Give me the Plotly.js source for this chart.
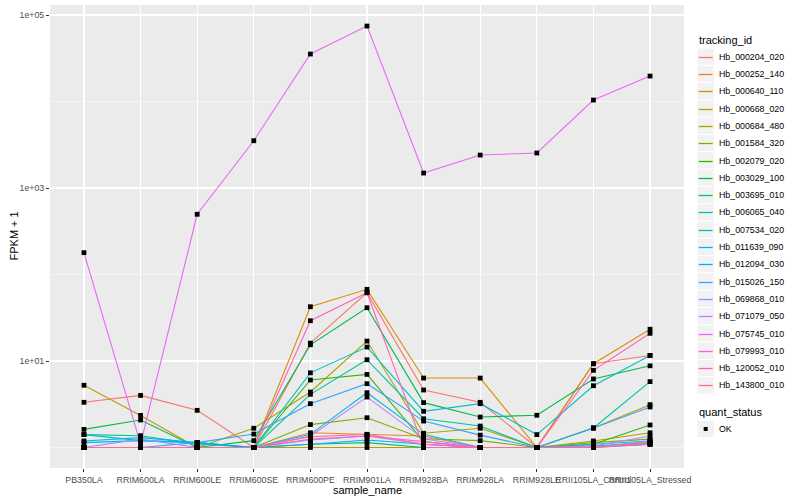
<!DOCTYPE html>
<html>
<head>
<meta charset="utf-8">
<script src="https://cdn.plot.ly/plotly-3.0.1.min.js"></script>
<style>html,body{margin:0;padding:0;background:#fff;}#chart{width:800px;height:500px;}</style>
</head>
<body>
<div id="chart"></div>
<script>
// Categories
const samples = ["PB350LA","RRIM600LA","RRIM600LE","RRIM600SE","RRIM600PE","RRIM901LA","RRIM928BA","RRIM928LA","RRIM928LE","RRII105LA_Control","RRII105LA_Stressed"];
const trackingIds = ["Hb_000204_020","Hb_000252_140","Hb_000640_110","Hb_000668_020","Hb_000684_480","Hb_001584_320","Hb_002079_020","Hb_003029_100","Hb_003695_010","Hb_006065_040","Hb_007534_020","Hb_011639_090","Hb_012094_030","Hb_015026_150","Hb_069868_010","Hb_071079_050","Hb_075745_010","Hb_079993_010","Hb_120052_010","Hb_143800_010"];
const colors = ["#F8766D","#EA8331","#D89000","#C09B00","#A3A500","#7CAE00","#39B600","#00BB4E","#00BF7D","#00C1A3","#00BFC4","#00BAE0","#00B0F6","#35A2FF","#9590FF","#C77CFF","#E76BF3","#FA62DB","#FF62BC","#FF6C91"];
const quantStatus = ["OK"];

// FPKM + 1 values per tracking_id (order follows samples)
const hb_000204_020 = [3.33, 4.0, 2.69, 1.0, 16.1, 61.6, 4.62, 3.33, 1.0, 9.3, 11.6];
const hb_000252_140 = [1.0, 1.0, 1.0, 1.0, 1.48, 1.42, 1.36, 1.0, 1.0, 1.04, 1.09];
const hb_000640_110 = [1.0, 1.0, 1.0, 1.0, 42.4, 67.4, 6.35, 6.35, 1.0, 9.3, 23.3];
const hb_000668_020 = [5.24, 2.35, 1.0, 1.0, 1.0, 1.0, 1.0, 1.0, 1.0, 1.68, 3.13];
const hb_000684_480 = [1.0, 1.0, 1.0, 1.67, 4.38, 17.0, 1.46, 1.67, 1.0, 1.19, 1.48];
const hb_001584_320 = [1.0, 1.0, 1.0, 1.0, 1.84, 2.21, 1.26, 1.2, 1.0, 1.14, 1.25];
const hb_002079_020 = [1.0, 1.0, 1.0, 1.0, 6.03, 7.0, 1.17, 1.0, 1.0, 1.09, 1.82];
const hb_003029_100 = [1.62, 2.08, 1.0, 1.2, 15.4, 41.3, 3.3, 2.25, 2.36, 6.2, 8.8];
const hb_003695_010 = [1.0, 1.0, 1.0, 1.0, 1.09, 1.14, 1.0, 1.0, 1.0, 1.0, 1.09];
const hb_006065_040 = [1.41, 1.37, 1.1, 1.0, 4.12, 10.35, 2.15, 1.77, 1.0, 1.68, 5.78];
const hb_007534_020 = [1.41, 1.2, 1.14, 1.0, 7.3, 14.5, 2.62, 3.21, 1.41, 5.18, 11.6];
const hb_011639_090 = [1.19, 1.3, 1.14, 1.0, 1.42, 4.3, 1.42, 1.0, 1.0, 1.09, 1.19];
const hb_012094_030 = [1.14, 1.2, 1.14, 1.0, 1.09, 1.22, 1.09, 1.0, 1.0, 1.04, 1.14];
const hb_015026_150 = [1.0, 1.0, 1.14, 1.43, 3.21, 5.47, 2.02, 1.39, 1.0, 1.68, 2.94];
const hb_069868_010 = [1.0, 1.25, 1.0, 1.0, 1.22, 1.36, 1.09, 1.0, 1.0, 1.0, 1.19];
const hb_071079_050 = [1.0, 1.0, 1.0, 1.0, 1.36, 3.83, 1.26, 1.0, 1.0, 1.04, 1.36];
const hb_075745_010 = [179, 1.1, 497, 3523, 35400, 74600, 1490, 2405, 2540, 10400, 19700];
const hb_079993_010 = [1.0, 1.0, 1.0, 1.0, 1.25, 1.36, 1.17, 1.0, 1.0, 1.0, 1.09];
const hb_120052_010 = [1.0, 1.0, 1.0, 1.0, 29.2, 61.6, 1.0, 1.0, 1.0, 7.8, 20.9];
const hb_143800_010 = [1.0, 1.0, 1.0, 1.0, 1.33, 1.42, 1.09, 1.0, 1.0, 1.0, 1.14];

// Y-axis tick labels
const yTickVals = [10, 1000, 100000];
const yTickText = ["1e+01", "1e+03", "1e+05"];
const yMinorVals = [1, 100, 10000];

const seriesValues = [hb_000204_020, hb_000252_140, hb_000640_110, hb_000668_020, hb_000684_480, hb_001584_320, hb_002079_020, hb_003029_100, hb_003695_010, hb_006065_040, hb_007534_020, hb_011639_090, hb_012094_030, hb_015026_150, hb_069868_010, hb_071079_050, hb_075745_010, hb_079993_010, hb_120052_010, hb_143800_010];

const FONT = "Liberation Sans, Arial, Helvetica, sans-serif";
const W = 800, H = 500;
const M = { l: 50, r: 116, t: 5, b: 32 };
const plotW = W - M.l - M.r, plotH = H - M.t - M.b;
// pixel -> paper helpers (for legend / title placement only)
const PX = p => (p - M.l) / plotW;
const PY = p => (H - M.b - p) / plotH;

const traces = [];
trackingIds.forEach((id, i) => {
  traces.push({
    type: "scatter", mode: "lines", name: id,
    x: samples, y: seriesValues[i],
    line: { color: colors[i], width: 1.1 },
    showlegend: false
  });
});
const px = [], py = [];
seriesValues.forEach(v => v.forEach((val, j) => { px.push(samples[j]); py.push(val); }));
traces.push({
  type: "scatter", mode: "markers", name: quantStatus[0],
  x: px, y: py,
  marker: { symbol: "square", size: 4.8, color: "#000000" },
  showlegend: false
});

// Custom ggplot-style legend
const shapes = [], annotations = [];
const keyL = 697, keyR = 714.3, keyH = 17.3;
const firstY = 56.7;
annotations.push({ xref: "paper", yref: "paper", x: PX(keyL), y: PY(40), xanchor: "left", yanchor: "middle",
  text: "tracking_id", showarrow: false, font: { size: 11, family: FONT, color: "#000" } });
trackingIds.forEach((id, i) => {
  const cy = firstY + i * keyH;
  shapes.push({ type: "rect", xref: "paper", yref: "paper", x0: PX(keyL), x1: PX(keyR), y0: PY(cy - keyH / 2), y1: PY(cy + keyH / 2),
    fillcolor: "#F2F2F2", line: { color: "#FFFFFF", width: 1 }, layer: "above" });
  shapes.push({ type: "line", xref: "paper", yref: "paper", x0: PX(keyL + 1.7), x1: PX(keyR - 1.7), y0: PY(Math.round(cy) + 0.5), y1: PY(Math.round(cy) + 0.5),
    line: { color: colors[i], width: 1.3 }, layer: "above" });
  annotations.push({ xref: "paper", yref: "paper", x: PX(717), y: PY(cy), xanchor: "left", yanchor: "middle",
    text: id, showarrow: false, font: { size: 8.8, family: FONT, color: "#000" } });
});
annotations.push({ xref: "paper", yref: "paper", x: PX(keyL), y: PY(412), xanchor: "left", yanchor: "middle",
  text: "quant_status", showarrow: false, font: { size: 11, family: FONT, color: "#000" } });
const okY = 429;
shapes.push({ type: "rect", xref: "paper", yref: "paper", x0: PX(keyL), x1: PX(keyR), y0: PY(okY - keyH / 2), y1: PY(okY + keyH / 2),
  fillcolor: "#F2F2F2", line: { color: "#FFFFFF", width: 1 }, layer: "above" });
shapes.push({ type: "rect", xref: "paper", yref: "paper", x0: PX(703.7), x1: PX(707.7), y0: PY(okY - 2), y1: PY(okY + 2),
  fillcolor: "#000000", line: { width: 0 }, layer: "above" });
annotations.push({ xref: "paper", yref: "paper", x: PX(717), y: PY(okY), xanchor: "left", yanchor: "middle",
  text: quantStatus[0], showarrow: false, font: { size: 8.8, family: FONT, color: "#000" } });

// Axis titles placed as ggplot does
annotations.push({ xref: "paper", yref: "paper", x: 0.5, y: PY(490.5), xanchor: "center", yanchor: "middle",
  text: "sample_name", showarrow: false, font: { size: 11, family: FONT, color: "#000" } });
annotations.push({ xref: "paper", yref: "paper", x: PX(13), y: 0.5, xanchor: "center", yanchor: "middle",
  text: "FPKM + 1", textangle: -90, showarrow: false, font: { size: 11, family: FONT, color: "#000" } });

const layout = {
  width: W, height: H,
  margin: M,
  paper_bgcolor: "#FFFFFF", plot_bgcolor: "#EBEBEB",
  font: { family: FONT, color: "#000000" },
  showlegend: false,
  xaxis: {
    type: "category", categoryorder: "array", categoryarray: samples,
    range: [-0.6, 10.6], showgrid: true, gridcolor: "#FFFFFF", gridwidth: 1.1,
    zeroline: false, showline: false,
    ticks: "outside", ticklen: 3, tickwidth: 1, tickcolor: "#333333",
    tickangle: 0, tickfont: { size: 8.8, color: "#4D4D4D", family: FONT }
  },
  yaxis: {
    type: "log", range: [-0.237, 5.116],
    tickmode: "array", tickvals: yTickVals, ticktext: yTickText,
    showgrid: true, gridcolor: "#FFFFFF", gridwidth: 1.1,
    minor: { tickmode: "array", tickvals: yMinorVals, showgrid: true, gridcolor: "#FFFFFF", gridwidth: 0.5, ticks: "" },
    zeroline: false, showline: false,
    ticks: "outside", ticklen: 3, tickwidth: 1, tickcolor: "#333333",
    tickfont: { size: 8.8, color: "#4D4D4D", family: FONT }
  },
  shapes: shapes,
  annotations: annotations
};

Plotly.newPlot("chart", traces, layout, { staticPlot: true, displayModeBar: false });
</script>
</body>
</html>
